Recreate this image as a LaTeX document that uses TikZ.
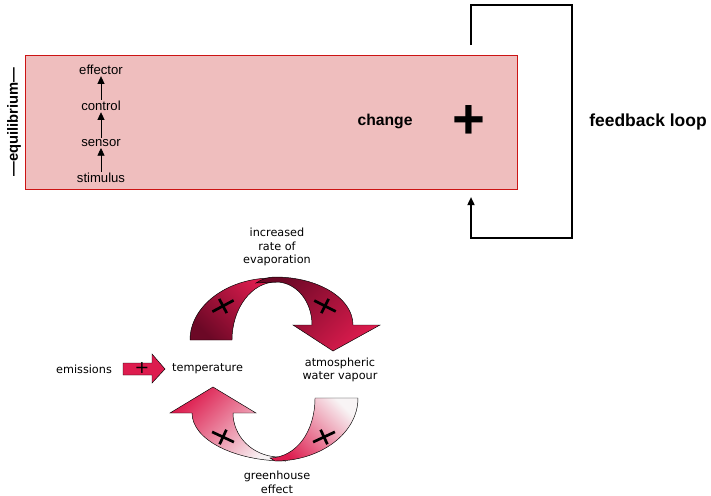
\documentclass[tikz,border=0pt]{standalone}
\usepackage{fontspec}
\setmainfont{Liberation Sans}
\newfontfamily\verdanafont{DejaVu Sans}
\usepackage{tikz}
\usetikzlibrary{arrows.meta,positioning}
\definecolor{boxpink}{RGB}{239,190,190}
\definecolor{boxred}{RGB}{204,20,20}
\definecolor{wvred}{RGB}{221,28,78}
\definecolor{wvdark}{RGB}{108,8,38}
\definecolor{wvwhite}{RGB}{248,244,245}
\tikzstyle{smallarrow} = [-{Triangle[width=6pt,length=6.5pt]}, semithick]
\tikzstyle{looparrow} = [line width=1.6pt, -{Triangle[width=6pt,length=7pt]}]
\tikzstyle{stagelabel} = [font=\fontsize{11.2}{13}\selectfont, inner sep=1pt]
\tikzstyle{cyclelabel} = [font=\verdanafont\fontsize{9.6}{11.6}\selectfont, align=center, inner sep=0pt]
\tikzstyle{band} = [draw=black, thin]
\tikzset{bandplus/.pic={\draw[line width=2.3pt] (-12,0) -- (12,0) (0,-8) -- (0,8);}}

\begin{document}
\begin{tikzpicture}[x=0.03cm, y=-0.03cm]
    \useasboundingbox (0,0) rectangle (711,495);

    % Homeostasis box
    \node[draw=boxred, fill=boxpink, minimum width=14.76cm, minimum height=4.02cm,
          anchor=north west, inner sep=0pt] (box) at (25,55) {};
    \node[rotate=90, font=\bfseries\fontsize{12.6}{15}\selectfont, inner sep=0pt] (equil) at (14,122) {---equilibrium---};

    \node[stagelabel] (stimulus) at (101,178) {stimulus};
    \node[stagelabel] (sensor) at (101,143) {sensor};
    \node[stagelabel] (control) at (101,106) {control};
    \node[stagelabel] (effector) at (101,70) {effector};
    \draw[smallarrow] (stimulus) -- (sensor);
    \draw[smallarrow] (sensor) -- (control);
    \draw[smallarrow] (control) -- (effector);

    \node[font=\bfseries\fontsize{13.4}{16}\selectfont] (change) at (385,121) {change};
    \node[font=\bfseries\fontsize{48}{50}\selectfont, inner sep=0pt] (plus) at (469,122) {+};

    % Feedback loop
    \coordinate (loopout) at (471,45);
    \coordinate (loopin) at (471,197);
    \draw[looparrow] (loopout) |- (572,5) |- (471,238) -- (loopin);
    \node[font=\bfseries\fontsize{14.9}{18}\selectfont] (feedback) at (648,122) {feedback loop};

    % Water vapour cycle
    \node[cyclelabel] (evap) at (277,247) {increased\\rate of\\evaporation};
    \node[cyclelabel] (vapour) at (340,370) {atmospheric\\water vapour};
    \node[cyclelabel] (greenhouse) at (277,482) {greenhouse\\effect};
    \node[cyclelabel] (emissions) at (84,369) {emissions};
    \node[cyclelabel, anchor=west] (temp) at (172,369) {temperature};

    % emissions arrow
    \path[band, fill=wvred] (123,363) -- (152,363) -- (152,354) -- (165,369)
        -- (152,383) -- (152,375) -- (123,375) -- cycle;
    \node[font=\verdanafont\fontsize{15}{15}\selectfont, inner sep=0pt] (eplus) at (142,368) {+};

    % top arrow
    \path[band, top color=wvdark, bottom color=wvred, shading angle=135]
        (190,340) .. controls (190,306) and (227,278) .. (272,278)
        -- (276,282) .. controls (252,282) and (232,308) .. (232,340) -- cycle;
    \path[band, top color=wvdark, bottom color=wvred, shading angle=45]
        (256,283) .. controls (262,279) and (268,277) .. (275,277)
        .. controls (318,277) and (353,298) .. (353,325)
        -- (380,325) -- (333,351) -- (293,325) -- (312,325)
        .. controls (312,301) and (296,282) .. (276,282) -- cycle;
    \pic[rotate=28] at (223,306) {bandplus};
    \pic[rotate=-27] at (325,306) {bandplus};

    % bottom arrow
    \path[band, top color=wvred, bottom color=wvwhite, shading angle=45]
        (192,413) -- (170,413) -- (213,387) -- (256,413) -- (233,413)
        .. controls (233,436) and (252,456) .. (278,457)
        -- (285,461) .. controls (235,461) and (192,440) .. (192,413) -- cycle;
    \path[band, top color=wvwhite, bottom color=wvred, shading angle=-45]
        (358,398) -- (315,398) .. controls (315,431) and (297,457) .. (270,458)
        -- (275,461) .. controls (321,461) and (358,433) .. (358,398) -- cycle;
    \pic[rotate=-25] at (223,437) {bandplus};
    \pic[rotate=25] at (324,437) {bandplus};
\end{tikzpicture}
\end{document}
